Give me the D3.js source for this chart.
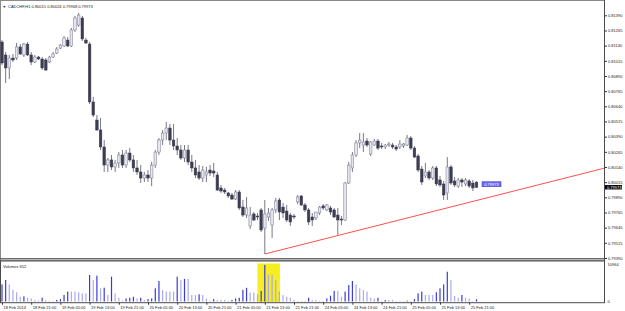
<!DOCTYPE html>
<html>
<head>
<meta charset="utf-8">
<script src="https://cdn.jsdelivr.net/npm/d3@7"></script>
<style>
  body { margin: 0; background: #fff; }
  svg { display: block; font-family: "Liberation Sans", Arial, sans-serif; }
</style>
</head>
<body>
<svg id="chart" width="625" height="311"></svg>
<script>
const title = "CADCHF,H1 0.80015 0.80024 0.79968 0.79973";

const opens = [
  0.81170, 0.81063, 0.80956, 0.81038, 0.81038, 0.81129, 0.81063, 0.81153, 0.81063, 0.81005,
  0.81046, 0.81030, 0.81022, 0.81005, 0.81046, 0.81079, 0.81120, 0.81137, 0.81186, 0.81137,
  0.81269, 0.81310, 0.81368, 0.81186, 0.81153, 0.80676, 0.80527, 0.80445, 0.80305, 0.80156,
  0.80198, 0.80140, 0.80173, 0.80239, 0.80156, 0.80255, 0.80198, 0.80132, 0.80099, 0.80049,
  0.80074, 0.80049, 0.80156, 0.80263, 0.80362, 0.80420, 0.80461, 0.80362, 0.80313, 0.80280,
  0.80214, 0.80280, 0.80181, 0.80132, 0.80099, 0.80049, 0.80074, 0.80115, 0.80107, 0.80074,
  0.79967, 0.79950, 0.79926, 0.79909, 0.79876, 0.79934, 0.79810, 0.79744, 0.79654, 0.79753,
  0.79736, 0.79786, 0.79637, 0.79728, 0.79662, 0.79786, 0.79868, 0.79810, 0.79777, 0.79744,
  0.79736, 0.79852, 0.79901, 0.79827, 0.79786, 0.79728, 0.79720, 0.79761, 0.79819, 0.79786,
  0.79802, 0.79786, 0.79744, 0.79711, 0.79703, 0.80008, 0.80132, 0.80239, 0.80338, 0.80321,
  0.80354, 0.80247, 0.80321, 0.80354, 0.80313, 0.80305, 0.80321, 0.80321, 0.80305, 0.80305,
  0.80313, 0.80321, 0.80379, 0.80296, 0.80231, 0.80123, 0.80066, 0.80099, 0.80049, 0.80132,
  0.80033, 0.80000, 0.79926, 0.80140, 0.80025, 0.79983, 0.80033, 0.80000, 0.80025, 0.80008,
  0.80015
];
const highs = [
  0.81186, 0.81088, 0.81063, 0.81071, 0.81162, 0.81153, 0.81162, 0.81170, 0.81088, 0.81063,
  0.81055, 0.81046, 0.81038, 0.81055, 0.81088, 0.81129, 0.81153, 0.81219, 0.81211, 0.81285,
  0.81384, 0.81409, 0.81384, 0.81203, 0.81170, 0.80717, 0.80568, 0.80544, 0.80362, 0.80214,
  0.80239, 0.80198, 0.80263, 0.80280, 0.80280, 0.80296, 0.80239, 0.80198, 0.80156, 0.80099,
  0.80115, 0.80181, 0.80280, 0.80379, 0.80445, 0.80511, 0.80494, 0.80494, 0.80379, 0.80321,
  0.80321, 0.80321, 0.80239, 0.80198, 0.80156, 0.80148, 0.80140, 0.80156, 0.80173, 0.80099,
  0.79992, 0.79967, 0.79934, 0.79926, 0.79950, 0.79950, 0.79868, 0.79893, 0.79810, 0.79769,
  0.79761, 0.79802, 0.79868, 0.79802, 0.79802, 0.79885, 0.79885, 0.79843, 0.79827, 0.79761,
  0.79753, 0.79909, 0.79909, 0.79843, 0.79802, 0.79761, 0.79769, 0.79819, 0.79835, 0.79835,
  0.79819, 0.79802, 0.79802, 0.79736, 0.80016, 0.80181, 0.80263, 0.80362, 0.80420, 0.80420,
  0.80379, 0.80354, 0.80371, 0.80371, 0.80338, 0.80329, 0.80346, 0.80338, 0.80321, 0.80362,
  0.80338, 0.80404, 0.80395, 0.80313, 0.80247, 0.80148, 0.80173, 0.80115, 0.80148, 0.80148,
  0.80066, 0.80025, 0.80222, 0.80156, 0.80058, 0.80049, 0.80049, 0.80049, 0.80041, 0.80033,
  0.80024
];
const lows = [
  0.80980, 0.80832, 0.80865, 0.81005, 0.81022, 0.81063, 0.81046, 0.81055, 0.80980, 0.80997,
  0.81022, 0.80939, 0.80931, 0.80997, 0.81038, 0.81071, 0.81112, 0.81129, 0.81129, 0.81129,
  0.81252, 0.81294, 0.81178, 0.81153, 0.80659, 0.80552, 0.80437, 0.80280, 0.80099, 0.80099,
  0.80115, 0.80099, 0.80132, 0.80132, 0.80132, 0.80181, 0.80099, 0.80074, 0.80008, 0.80016,
  0.80016, 0.79983, 0.80132, 0.80239, 0.80321, 0.80362, 0.80321, 0.80280, 0.80239, 0.80198,
  0.80181, 0.80156, 0.80099, 0.80049, 0.80033, 0.80016, 0.80016, 0.80066, 0.80058, 0.79942,
  0.79926, 0.79917, 0.79885, 0.79868, 0.79868, 0.79786, 0.79728, 0.79720, 0.79629, 0.79695,
  0.79703, 0.79604, 0.79423, 0.79695, 0.79555, 0.79761, 0.79703, 0.79720, 0.79687, 0.79654,
  0.79711, 0.79835, 0.79819, 0.79769, 0.79662, 0.79654, 0.79703, 0.79744, 0.79786, 0.79777,
  0.79744, 0.79720, 0.79580, 0.79662, 0.79695, 0.80000, 0.80099, 0.80222, 0.80296, 0.80263,
  0.80305, 0.80231, 0.80313, 0.80280, 0.80288, 0.80288, 0.80305, 0.80288, 0.80272, 0.80288,
  0.80296, 0.80313, 0.80280, 0.80214, 0.80099, 0.79992, 0.80049, 0.80033, 0.80033, 0.79983,
  0.79975, 0.79868, 0.79868, 0.79992, 0.79975, 0.79967, 0.79975, 0.79983, 0.79967, 0.79942,
  0.79968
];
const closes = [
  0.80997, 0.80956, 0.81038, 0.81022, 0.81129, 0.81071, 0.81153, 0.81063, 0.81005, 0.81046,
  0.81030, 0.80956, 0.80939, 0.81046, 0.81071, 0.81112, 0.81145, 0.81203, 0.81137, 0.81269,
  0.81368, 0.81392, 0.81195, 0.81162, 0.80676, 0.80568, 0.80445, 0.80305, 0.80156, 0.80198,
  0.80140, 0.80173, 0.80239, 0.80156, 0.80255, 0.80198, 0.80132, 0.80099, 0.80049, 0.80074,
  0.80049, 0.80156, 0.80263, 0.80362, 0.80420, 0.80461, 0.80362, 0.80313, 0.80280, 0.80214,
  0.80280, 0.80181, 0.80132, 0.80074, 0.80049, 0.80115, 0.80099, 0.80090, 0.80090, 0.79950,
  0.79942, 0.79934, 0.79901, 0.79876, 0.79934, 0.79802, 0.79744, 0.79802, 0.79744, 0.79703,
  0.79728, 0.79621, 0.79753, 0.79761, 0.79786, 0.79860, 0.79769, 0.79761, 0.79703, 0.79687,
  0.79728, 0.79893, 0.79827, 0.79786, 0.79687, 0.79703, 0.79769, 0.79810, 0.79802, 0.79827,
  0.79769, 0.79728, 0.79703, 0.79703, 0.80008, 0.80156, 0.80239, 0.80338, 0.80362, 0.80346,
  0.80321, 0.80346, 0.80354, 0.80296, 0.80305, 0.80321, 0.80329, 0.80305, 0.80288, 0.80329,
  0.80329, 0.80379, 0.80296, 0.80222, 0.80115, 0.80016, 0.80099, 0.80049, 0.80132, 0.80000,
  0.79992, 0.79909, 0.80140, 0.80008, 0.79992, 0.80033, 0.80016, 0.80033, 0.79983, 0.79967,
  0.79973
];
const volumes = [
  5000, 6300, 5000, 3400, 2700, 1400, 1500, 1100, 900, 450,
  300, 1100, 450, 200, 150, 450, 700, 1900, 2900, 2900,
  2900, 2700, 2400, 2400, 7750, 6300, 7550, 3850, 4050, 1900,
  7250, 2400, 1100, 300, 900, 1100, 1400, 900, 1100, 450,
  700, 900, 3850, 6000, 3350, 2900, 2900, 2900, 7250, 6300,
  6600, 6600, 1900, 1900, 2100, 1900, 900, 300, 700, 450,
  450, 450, 150, 450, 900, 1100, 3400, 4000, 2600, 2600,
  2100, 3100, 10700, 7900, 7900, 6300, 2900, 1900, 1400, 1100,
  450, 150, 150, 150, 1100, 450, 450, 150, 150, 900,
  1700, 3100, 3100, 1400, 2900, 4800, 6000, 5000, 3850, 3350,
  2900, 1100, 900, 1100, 150, 450, 450, 450, 150, 150,
  150, 250, 150, 700, 2400, 2900, 1900, 1900, 1900, 2700,
  3850, 5000, 8700, 6300, 1600, 1100, 1900, 1100, 900, 150,
  652
];

const timeLabels = [
  "18 Feb 2014", "18 Feb 21:00", "19 Feb 05:00", "19 Feb 13:00", "19 Feb 21:00",
  "20 Feb 05:00", "20 Feb 13:00", "20 Feb 21:00", "21 Feb 05:00", "21 Feb 13:00",
  "21 Feb 21:00", "24 Feb 05:00", "24 Feb 13:00", "24 Feb 21:00", "25 Feb 05:00",
  "25 Feb 13:00", "25 Feb 21:00"
];
const timeLabelBars = [0, 8, 16, 24, 32, 40, 48, 56, 64, 72, 80, 88, 96, 104, 112, 120, 128];

const priceTicks = [
  0.79390, 0.79515, 0.79640, 0.79765, 0.79890, 0.80015, 0.80140, 0.80265, 0.80390,
  0.80515, 0.80640, 0.80765, 0.80890, 0.81015, 0.81140, 0.81265, 0.81390
];
const volumeTicks = [0, 10964];
const lastPrice = 0.79973;
const volumeLabel = "Volumes 652";

// trend line drawn through two (bar, price) points, extended right
const trendPoints = [[72, 0.79423], [120, 0.79788]];
const highlightBars = [70, 76];

const svg = d3.select("#chart");

const x = d3.scaleLinear().domain([0, 130]).range([2, 476.5]);
const y = d3.scaleLinear().domain([0.79390, 0.81390]).range([258, 15.3]);
const vy = d3.scaleLinear().domain([0, 10964]).range([301.5, 264]);

const bars = opens.map((o, i) => ({
  i, o, h: highs[i], l: lows[i], c: closes[i], v: volumes[i]
}));

// panels
svg.append("rect")
  .attr("x", 0.5).attr("y", 0.5).attr("width", 604).attr("height", 258)
  .attr("fill", "#fff").attr("stroke", "#8a8a8a");

svg.append("rect")
  .attr("x", 0.5).attr("y", 258.5).attr("width", 604).attr("height", 2.5)
  .attr("fill", "#b4b4b4").attr("stroke", "#5a5a5a").attr("stroke-width", 0.7);

svg.append("rect")
  .attr("x", 0.5).attr("y", 261).attr("width", 604).attr("height", 41.7)
  .attr("fill", "#fff").attr("stroke", "#4a4a4a");

// highlight box in volume panel
svg.append("rect")
  .attr("x", x(highlightBars[0]))
  .attr("y", vy(10964) - 0.5)
  .attr("width", x(highlightBars[1]) - x(highlightBars[0]) + 0.5)
  .attr("height", vy(0) - vy(10964) + 1)
  .attr("fill", "#f6ee1e");

// volumes
svg.append("g")
  .selectAll("rect")
  .data(bars)
  .enter()
  .append("rect")
  .attr("x", d => x(d.i) - 0.6)
  .attr("y", d => vy(d.v))
  .attr("width", 1.2)
  .attr("height", d => vy(0) - vy(d.v))
  .attr("fill", (d, i) => i > 0 && d.v <= volumes[i - 1] ? "#aaaaee" : "#3b3bd9");

// trend line
const [p0, p1] = trendPoints;
const slope = (p1[1] - p0[1]) / (p1[0] - p0[0]);
const endBar = x.invert(604);
svg.append("line")
  .attr("x1", x(p0[0])).attr("y1", y(p0[1]))
  .attr("x2", x(endBar)).attr("y2", y(p0[1] + slope * (endBar - p0[0])))
  .attr("stroke", "#ff3b3b").attr("stroke-width", 0.9);

// candles
const candles = svg.append("g");

candles.selectAll("line")
  .data(bars)
  .enter()
  .append("line")
  .attr("x1", d => x(d.i)).attr("x2", d => x(d.i))
  .attr("y1", d => y(d.h)).attr("y2", d => y(d.l))
  .attr("stroke", "#55556c").attr("stroke-width", 0.8);

candles.selectAll("rect")
  .data(bars)
  .enter()
  .append("rect")
  .attr("x", d => x(d.i) - 1.3)
  .attr("y", d => y(Math.max(d.o, d.c)))
  .attr("width", 2.6)
  .attr("height", d => Math.max(0.8, Math.abs(y(d.o) - y(d.c))))
  .attr("fill", d => d.c >= d.o ? "#e6e6ee" : "#3d3d52")
  .attr("stroke", d => d.c >= d.o ? "#76768e" : "#3d3d52")
  .attr("stroke-width", 0.5);

// price label next to last bar
const lastY = y(lastPrice);
svg.append("rect")
  .attr("x", x(130) + 5.5).attr("y", lastY - 5.5)
  .attr("width", 19).attr("height", 5)
  .attr("fill", "#6868ee").attr("stroke", "#3434c4").attr("stroke-width", 0.5);
svg.append("text")
  .attr("x", x(130) + 15).attr("y", lastY - 1.6)
  .attr("text-anchor", "middle").attr("font-size", 4).attr("fill", "#fff")
  .text(lastPrice.toFixed(5));

// right price axis
const yAxis = svg.append("g")
  .attr("transform", "translate(604.5,0)")
  .call(d3.axisRight(y).tickValues(priceTicks).tickSize(2.5).tickPadding(1)
    .tickFormat(d => d.toFixed(5)));

// right volume axis
const vAxis = svg.append("g")
  .attr("transform", "translate(604.5,0)")
  .call(d3.axisRight(vy).tickValues(volumeTicks).tickSize(0).tickPadding(3)
    .tickFormat(d => d));

// bottom time axis
const xAxis = svg.append("g")
  .attr("transform", "translate(0,302.7)")
  .call(d3.axisBottom(x).tickValues(timeLabelBars).tickSize(2).tickPadding(1)
    .tickFormat((d, i) => timeLabels[i]));

[yAxis, vAxis, xAxis].forEach(g => {
  g.attr("font-size", 4).attr("font-family", null);
  g.select(".domain").remove();
  g.selectAll(".tick line").attr("stroke", "#333");
  g.selectAll(".tick text").attr("fill", "#222");
});

xAxis.selectAll(".tick text")
  .attr("text-anchor", "start")
  .attr("x", 1);

// axis line
svg.append("line")
  .attr("x1", 604.5).attr("x2", 604.5).attr("y1", 0).attr("y2", 302.7)
  .attr("stroke", "#4a4a4a");

// last price marker on the axis
svg.append("rect")
  .attr("x", 605).attr("y", lastY - 2.2)
  .attr("width", 17).attr("height", 4.4)
  .attr("fill", "#000");
svg.append("text")
  .attr("x", 607).attr("y", lastY + 1.4)
  .attr("font-size", 4).attr("fill", "#fff")
  .text(lastPrice.toFixed(5));

// titles
svg.append("text")
  .attr("x", 2.5).attr("y", 7.8)
  .attr("font-size", 3.6).attr("fill", "#222")
  .text("\u25BC");
svg.append("text")
  .attr("x", 8).attr("y", 7.8)
  .attr("font-size", 4).attr("fill", "#222")
  .text(title);
svg.append("text")
  .attr("x", 3).attr("y", 268)
  .attr("font-size", 4).attr("fill", "#222")
  .text(volumeLabel);
</script>
</body>
</html>
